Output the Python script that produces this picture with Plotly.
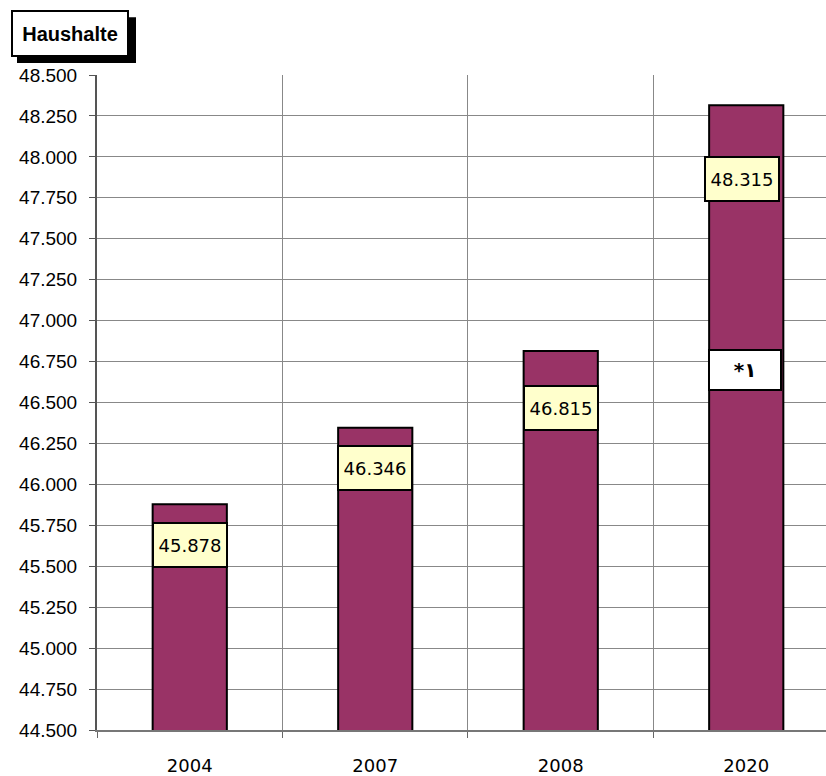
import plotly.graph_objects as go

# Private households (in thousands) by year
years = ["2004", "2007", "2008", "2020"]
households = [45878, 46346, 46815, 48315]
# Vertical anchor of each value box, in axis units
label_y = [45631, 46102, 46464, 47865]
label_xshift = [0, 0, 0, -4]
footnote_text = "*١"
footnote_y = 46700

y_min, y_max, y_step = 44500, 48500, 250

BAR_COLOR = "#993366"
GRID_COLOR = "#888888"

fig = go.Figure()
fig.add_trace(go.Bar(
    x=years,
    y=households,
    width=0.4,
    marker=dict(color=BAR_COLOR, line=dict(color="black", width=2)),
    hoverinfo="x+y",
))

def fmt(v):
    return f"{v:,}".replace(",", ".")

annotations = []
for i, (v, ly, dx) in enumerate(zip(households, label_y, label_xshift)):
    annotations.append(dict(
        x=i, y=ly, xref="x", yref="y", text=fmt(v), showarrow=False,
        xshift=dx,
        font=dict(family="DejaVu Sans", size=18, color="black"),
        bgcolor="#FFFFCC", bordercolor="black", borderwidth=2, borderpad=0,
        width=72, height=42,
    ))

annotations.append(dict(
    x=len(years) - 1, y=footnote_y, xref="x", yref="y",
    text=f"<b>{footnote_text}</b>",
    showarrow=False, xshift=-1,
    font=dict(family="DejaVu Sans", size=20, color="black"),
    bgcolor="white", bordercolor="black", borderwidth=2, borderpad=0,
    width=70, height=38,
))

# Plot area spans 97..826 px horizontally and 75..733 px vertically
def px_x(p):
    return (p - 97) / 729

def px_y(p):
    return (733 - p) / 658

annotations.append(dict(
    x=px_x(11), y=px_y(10), xref="paper", yref="paper",
    xanchor="left", yanchor="top", showarrow=False,
    text="<b>Haushalte</b>",
    font=dict(family="Liberation Sans", size=20, color="black"),
    bgcolor="white", bordercolor="black", borderwidth=2, borderpad=0,
    width=114, height=43,
))

shapes = [dict(
    type="rect", xref="paper", yref="paper", layer="above",
    x0=px_x(17), x1=px_x(136), y0=px_y(63), y1=px_y(17),
    fillcolor="black", line=dict(width=0),
)]

fig.update_layout(
    width=826, height=776,
    margin=dict(l=97, r=0, t=75, b=43),
    paper_bgcolor="white", plot_bgcolor="white",
    separators=",.",
    showlegend=False,
    bargap=0.6,
    annotations=annotations,
    shapes=shapes,
)

fig.update_xaxes(
    type="category",
    range=[-0.5, 3.43],
    tickson="boundaries",
    showgrid=True, gridcolor=GRID_COLOR, gridwidth=1,
    ticks="outside", ticklen=6, tickcolor="#666666",
    showline=True, linecolor="#777777", linewidth=2,
    tickfont=dict(family="DejaVu Sans", size=18, color="black"),
    ticklabelstandoff=18,
    zeroline=False,
)

fig.update_yaxes(
    range=[y_min, y_max],
    tick0=y_min, dtick=y_step,
    tickformat=",d",
    showgrid=True, gridcolor=GRID_COLOR, gridwidth=1,
    ticks="outside", ticklen=6, tickcolor="#555555",
    showline=True, linecolor="#555555", linewidth=2,
    tickfont=dict(family="Liberation Sans", size=19, color="black"),
    ticklabelstandoff=8,
    zeroline=False,
)

fig.write_html("out.html")
